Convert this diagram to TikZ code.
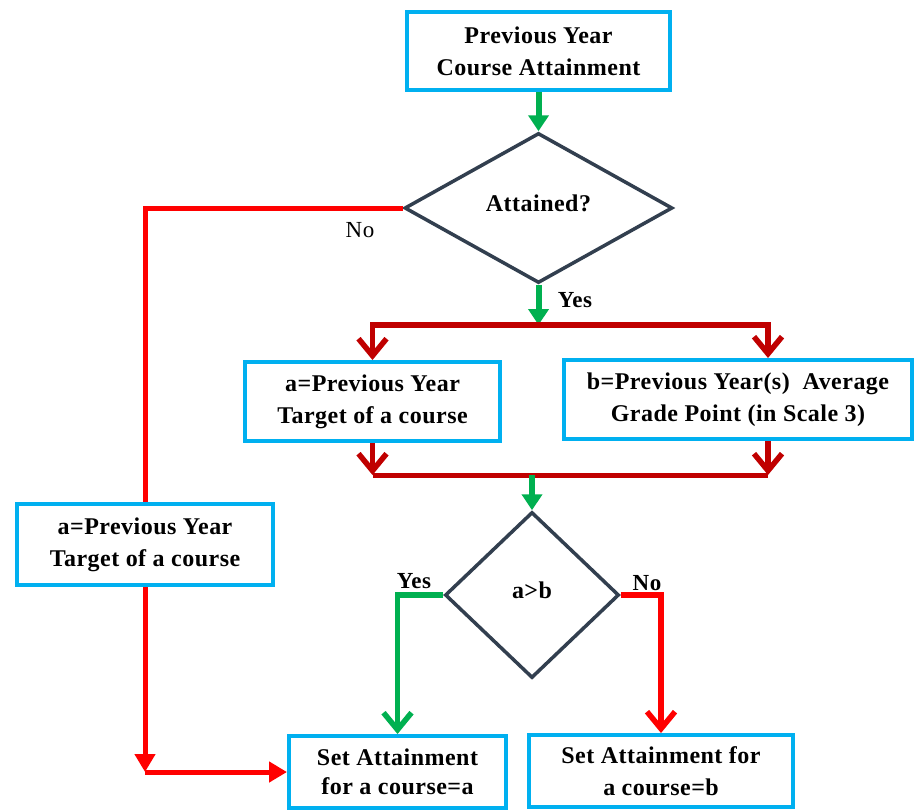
\documentclass[tikz,border=0pt]{standalone}
\usepackage{fontspec}
\setmainfont{Liberation Serif}
\newfontfamily\flowfont{Liberation Serif}[LetterSpace=2]
\usetikzlibrary{arrows.meta,positioning,shapes.geometric,calc}
\definecolor{FlowCyan}{HTML}{00B0F0}
\definecolor{FlowGreen}{HTML}{00B050}
\definecolor{FlowDarkRed}{HTML}{C00000}
\definecolor{FlowRed}{HTML}{FF0000}
\definecolor{FlowNavy}{HTML}{323F4F}
\newcommand\boxfont{\flowfont\bfseries\fontsize{24}{32}\selectfont}
\newcommand\tagfont{\flowfont\fontsize{23}{26}\selectfont}
\tikzset{
  stepbox/.style={draw=FlowCyan, line width=4pt, fill=white, align=center,
    font=\boxfont, inner sep=0pt},
  decision/.style={diamond, draw=FlowNavy, line width=3.5pt, fill=white,
    align=center, font=\boxfont, inner sep=0pt},
  greenwire/.style={draw=FlowGreen, line width=6pt, -{Triangle[length=16pt, width=20pt]}},
  greenbarb/.style={draw=FlowGreen, line width=5.5pt, -{Straight Barb[length=17pt, width=28pt]}},
  darkredline/.style={draw=FlowDarkRed, line width=5pt},
  darkredwire/.style={darkredline, line width=5.5pt, -{Straight Barb[length=17pt, width=28pt]}},
  redline/.style={draw=FlowRed, line width=5pt},
  redwire/.style={redline, -{Triangle[length=18pt, width=20pt]}},
  redbarb/.style={redline, line width=5.5pt, -{Straight Barb[length=17pt, width=28pt]}},
  tag/.style={font=\tagfont, inner sep=0pt}
}

\begin{document}
\begin{tikzpicture}[x=1pt, y=-1pt]
  \useasboundingbox (0,0) rectangle (917,809);
  % boxes and decisions
  \node[stepbox, minimum width=263pt, minimum height=78pt] (prev) at (538.5,51)
    {Previous Year\\Course Attainment};
  \node[decision, minimum width=268pt, minimum height=150pt] (attained) at (538.5,208)
    {\raisebox{10pt}{Attained?}};
  \node[stepbox, minimum width=255pt, minimum height=79pt] (targetmid) at (372.5,401.5)
    {a=Previous Year\\Target of a course};
  \node[stepbox, minimum width=348pt, minimum height=79pt] (gradept) at (738,399.5)
    {b=Previous Year(s)\ \ Average\\Grade Point (in Scale 3)};
  \node[stepbox, minimum width=256pt, minimum height=81pt] (targetleft) at (145,544.5)
    {a=Previous Year\\Target of a course};
  \node[decision, minimum width=174pt, minimum height=166pt] (compare) at (532,595)
    {\raisebox{9pt}{a>b}};
  \node[stepbox, minimum width=217pt, minimum height=72pt] (seta) at (397.5,772)
    {\raisebox{-3pt}{Set Attainment}\\for a course=a};
  \node[stepbox, minimum width=264pt, minimum height=72pt] (setb) at (661,771)
    {Set Attainment for\\a course=b};
  % junctions
  \coordinate (fork) at (attained.south |- 0,325);
  \coordinate (merge) at (compare.north |- 0,475);
  \coordinate (gradetop) at ($(gradept.north)+(30,0)$);
  \coordinate (gradebot) at ($(gradept.south)+(30,0)$);
  \coordinate (corner) at (targetleft.south |- seta.west);
  % connectors
  \draw[greenwire] (prev) -- (attained);
  \draw[greenwire] (attained.south) -- (fork);
  \draw[darkredwire] (fork) -| (targetmid.north);
  \draw[darkredwire] (fork) -| (gradetop);
  \draw[darkredwire] (targetmid.south) -- (targetmid.south |- merge);
  \draw[darkredwire] (gradebot) -- (gradebot |- merge);
  \draw[darkredline] (targetmid.south |- merge) -- (gradebot |- merge);
  \draw[greenwire] (merge) -- (compare.north);
  \draw[redline] (attained.west) -| (targetleft.north);
  \draw[redwire] (targetleft.south) -- (corner);
  \draw[redwire] (corner) -- (seta.west);
  \draw[greenbarb] (compare.west) -| (seta.north);
  \draw[redbarb] (compare.east) -| (setb.north);
  % branch labels
  \node[tag] (noleft) at (360,230) {No};
  \node[tag, font=\tagfont\bfseries] (yestop) at (575,300) {Yes};
  \node[tag, font=\tagfont\bfseries] (yesleft) at (414,581) {Yes};
  \node[tag, font=\tagfont\bfseries] (noright) at (647,583) {No};
\end{tikzpicture}
\end{document}
